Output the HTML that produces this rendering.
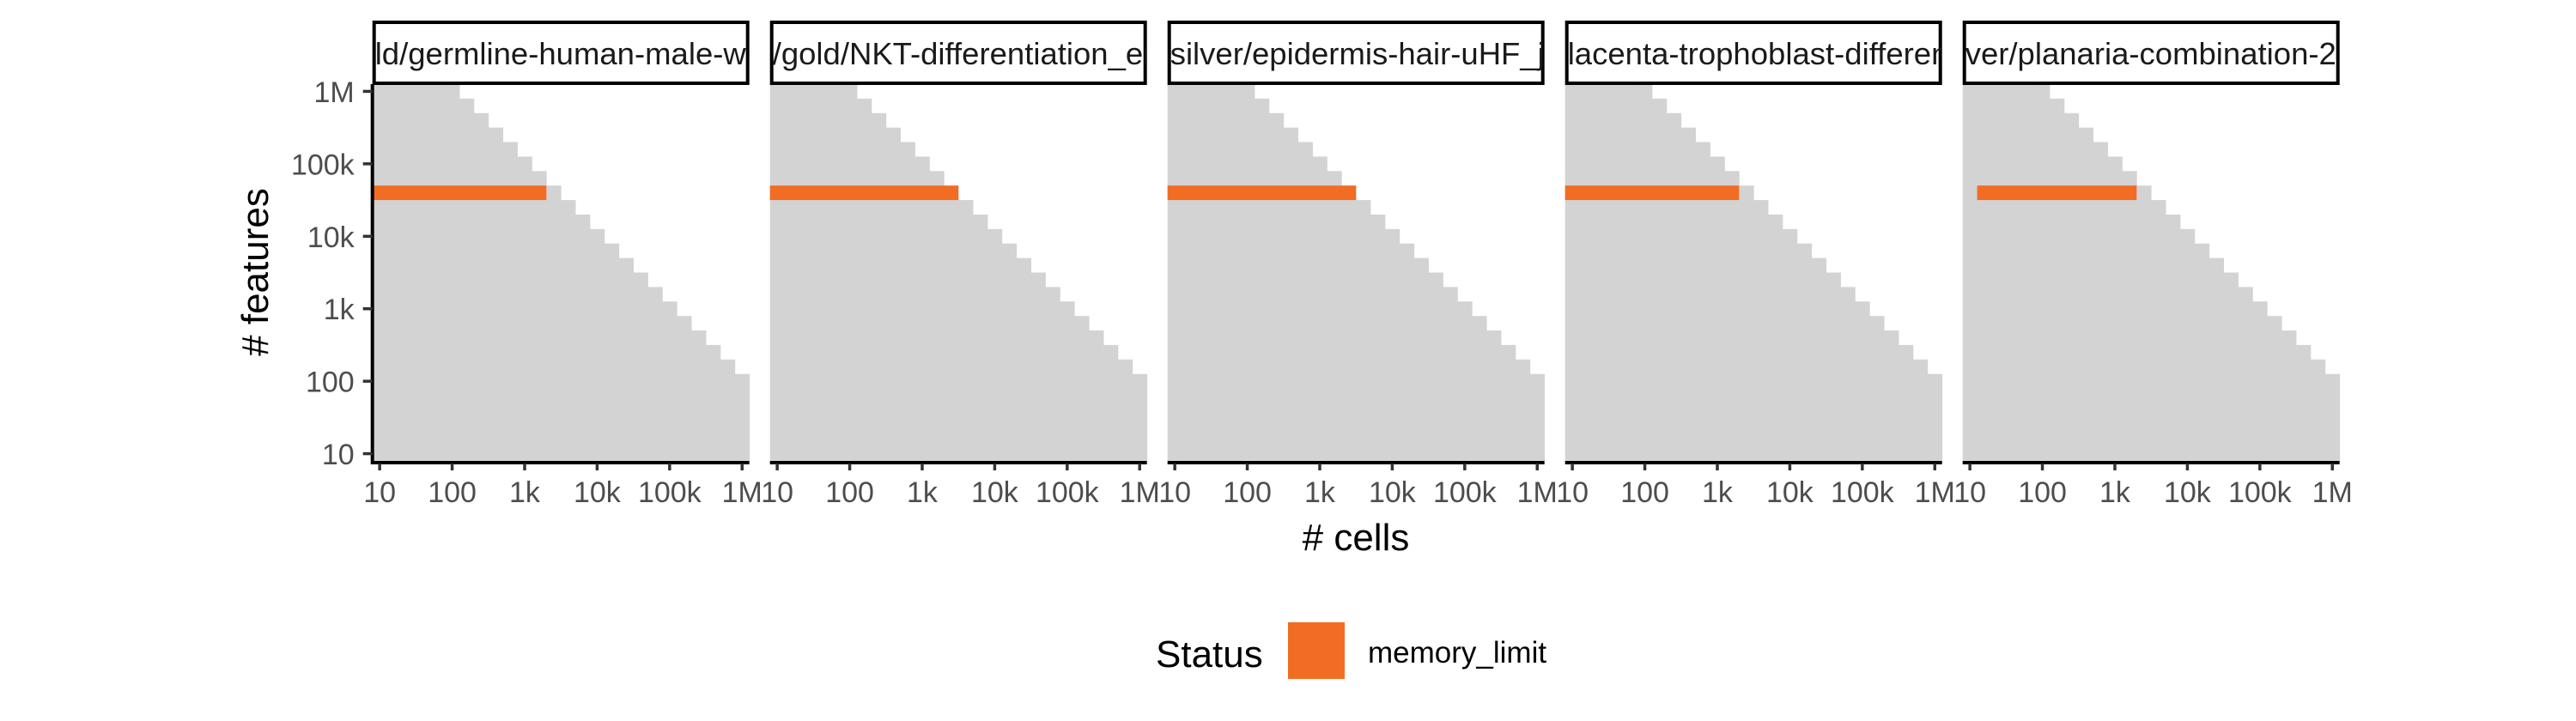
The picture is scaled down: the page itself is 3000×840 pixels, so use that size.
<!DOCTYPE html>
<html><head><meta charset="utf-8"><style>
html,body{margin:0;padding:0;background:#fff;}
svg{display:block;font-family:"Liberation Sans",sans-serif;}
</style></head><body>
<svg id="chart" width="3000" height="840" viewBox="0 0 3000 840" xmlns="http://www.w3.org/2000/svg">
<rect width="3000" height="840" fill="#fff"/>
<g id="panels"></g>
<text x="0" y="0" transform="translate(312,317) rotate(-90)" font-size="44" text-anchor="middle" fill="#000"># features</text>
<text x="1579" y="641" font-size="44" text-anchor="middle" fill="#000"># cells</text>
<g>
<text x="1346" y="777" font-size="44" fill="#000">Status</text>
<rect x="1500" y="725" width="66" height="66" fill="#f36c24"/>
<text x="1593" y="772" font-size="35" fill="#000">memory_limit</text>
</g>
</svg>
<script>
const panelTitles = ["ld/germline-human-male-w","/gold/NKT-differentiation_en","silver/epidermis-hair-uHF_j","lacenta-trophoblast-differen","ver/planaria-combination-2"];
const cellsLog = [1.0,1.2,1.4,1.6,1.8,2.0,2.2,2.4,2.6,2.8,3.0,3.2,3.4,3.6,3.8,4.0,4.2,4.4,4.6,4.8,5.0,5.2,5.4,5.6,5.8,6.0];
const maxFeatLog = [6.0,6.0,6.0,6.0,6.0,6.0,5.8,5.6,5.4,5.2,5.0,4.8,4.6,4.4,4.2,4.0,3.8,3.6,3.4,3.2,3.0,2.8,2.6,2.4,2.2,2.0];
const oomStart = [1.0,1.0,1.0,1.0,1.2];
const oomEnd = [3.2,3.4,3.4,3.2,3.2];
const oomFeat = [4.6,4.6,4.6,4.6,4.6];
const tickVals = [1,2,3,4,5,6];
const tickLabels = ["10","100","1k","10k","100k","1M"];

const NS = "http://www.w3.org/2000/svg";
const P0 = 433.7, PSTEP = 463, PW = 439, PTOP = 98, PBOT = 537;
const DMIN = 0.9, DMAX = 6.1, HALF = 0.1;
function xs(i, v){ return P0 + PSTEP*i + (v - DMIN) * PW / (DMAX - DMIN); }
function ys(v){ return PBOT - (v - DMIN) * (PBOT - PTOP) / (DMAX - DMIN); }
function mk(tag, attrs, parent){ const e = document.createElementNS(NS, tag); for (const k in attrs) e.setAttribute(k, attrs[k]); parent.appendChild(e); return e; }
const root = document.getElementById("panels");

for (let i = 0; i < panelTitles.length; i++) {
  const g = mk("g", {}, root);
  
  
  const left = xs(i, DMIN);
  for (let j = 0; j < cellsLog.length; j++) {
    const x0 = xs(i, cellsLog[j] - HALF), x1 = xs(i, cellsLog[j] + HALF);
    const y0 = ys(maxFeatLog[j] + HALF), y1 = ys(DMIN);
    const r = mk("rect", {x: x0, y: y0, width: x1 - x0 + 0.4, height: y1 - y0, fill: "#d3d3d3"}, g);
    
    
  }
  const ox0 = xs(i, oomStart[i] - HALF), ox1 = xs(i, oomEnd[i] + HALF);
  const oy0 = ys(oomFeat[i] + HALF), oy1 = ys(oomFeat[i] - HALF);
  const o = mk("rect", {x: ox0, y: oy0, width: ox1 - ox0, height: oy1 - oy0, fill: "#f36c24"}, g);
  
  
  const sg = mk("g", {}, g);
  
  
  const cp = mk("clipPath", {id: "clip" + i}, sg);
  mk("rect", {x: left, y: 24, width: PW, height: 74}, cp);
  mk("rect", {x: left + 2, y: 26, width: PW - 4, height: 71, fill: "#fff", stroke: "#000", "stroke-width": 4}, sg);
  const t = mk("text", {x: left + 3, y: 75, "font-size": 36.5, fill: "#1a1a1a", "clip-path": "url(#clip" + i + ")"}, sg);
  t.textContent = panelTitles[i];
  
  
  const ax = mk("line", {x1: left, x2: left + PW, y1: PBOT + 2, y2: PBOT + 2, stroke: "#000", "stroke-width": 4}, g);
  
  
  for (let k = 0; k < tickVals.length; k++) {
    const tx = xs(i, tickVals[k]);
    const tk = mk("line", {x1: tx, x2: tx, y1: PBOT + 3, y2: PBOT + 11, stroke: "#333", "stroke-width": 3.5}, g);
    
    
    const tl = mk("text", {x: tx, y: 585, "font-size": 34, "text-anchor": "middle", fill: "#4d4d4d"}, g);
    tl.textContent = tickLabels[k];
    
    
  }
  if (i === 0) {
    const ay = mk("line", {x1: left, x2: left, y1: PTOP, y2: PBOT + 4, stroke: "#000", "stroke-width": 4}, g);
    
    
    for (let k = 0; k < tickVals.length; k++) {
      const ty = ys(tickVals[k]);
      const tk = mk("line", {x1: left - 11, x2: left, y1: ty, y2: ty, stroke: "#333", "stroke-width": 3.5}, g);
      
      
      const tl = mk("text", {x: left - 21, y: ty + 12.5, "font-size": 34, "text-anchor": "end", fill: "#4d4d4d"}, g);
      tl.textContent = tickLabels[k];
      
      
    }
  }
}
</script>
</body></html>
